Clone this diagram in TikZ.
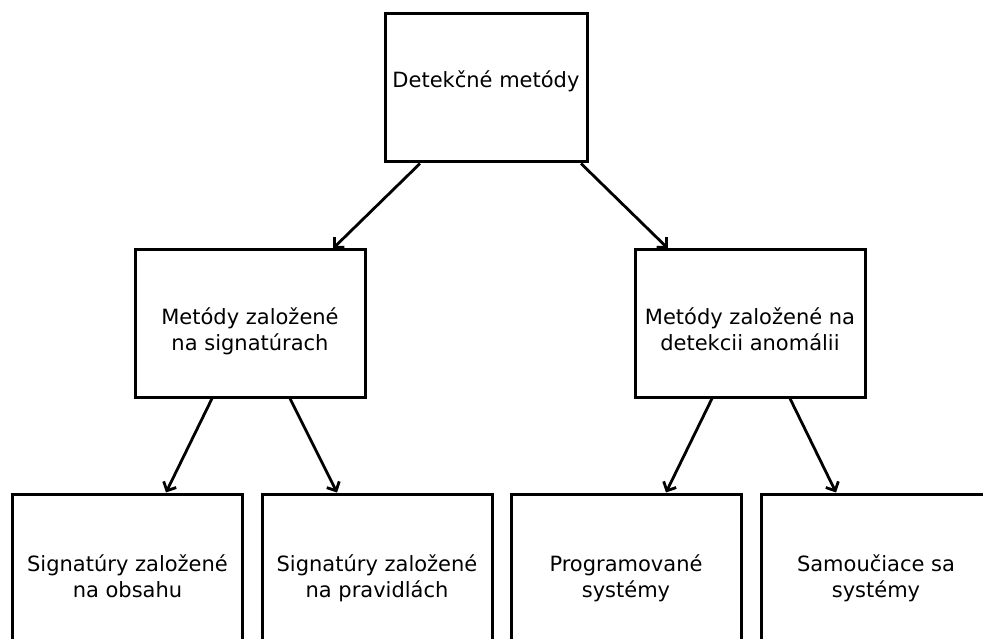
\documentclass[tikz,border=0pt]{standalone}
\usepackage{fontspec}
\setmainfont{DejaVu Sans}
\usetikzlibrary{arrows.meta}
% lines set from the first baseline, which sits on the node centre, moved up by #1
\newcommand\boxtext[2]{\raisebox{#1}[0pt][0pt]{\begin{tabular}[t]{@{}c@{}}#2\end{tabular}}}
\begin{document}
\begin{tikzpicture}[x=1pt,y=-1pt,
  box/.style={draw=black,line width=3pt,fill=white,inner sep=0pt,
    minimum width=#1,
    font=\fontsize{21}{26}\selectfont},
  box/.default=230pt,
  link/.style={line width=2.8pt,-{Straight Barb[length=7pt,width=14pt,line width=2.8pt]}}]
  \clip (0,0) rectangle (983,639);
  \fill[white] (0,0) rectangle (983,639);
  % top level
  \node[box=202pt,minimum height=148pt] (root) at (486,88) {\boxtext{0pt}{Detekčné metódy}};
  % second level
  \node[box=230pt,minimum height=147pt] (sig) at (250,323.5) {\boxtext{-0.5pt}{Metódy založené\\na signatúrach}};
  \node[box=230pt,minimum height=147pt] (ano) at (750,323.5) {\boxtext{-0.5pt}{Metódy založené na\\detekcii anomálii}};
  % third level (runs past the lower edge)
  \node[box=230pt,minimum height=164pt] (obs) at (127.5,576) {\boxtext{4.3pt}{Signatúry založené\\na obsahu}};
  \node[box=230pt,minimum height=164pt] (pra) at (377,576) {\boxtext{4.3pt}{Signatúry založené\\na pravidlách}};
  \node[box=230pt,minimum height=164pt] (prg) at (626,576) {\boxtext{4.3pt}{Programované\\systémy}};
  \node[box=230pt,minimum height=164pt] (sam) at (876,576) {\boxtext{4.3pt}{Samoučiace sa\\systémy}};
  % connectors
  \draw[link] ([xshift=-66pt]root.south) -- ([xshift=83pt]sig.north);
  \draw[link] ([xshift=95pt]root.south) -- ([xshift=-82pt]ano.north);
  \draw[link] ([xshift=-38pt]sig.south) -- ([xshift=38.5pt]obs.north);
  \draw[link] ([xshift=40pt]sig.south) -- ([xshift=-40pt]pra.north);
  \draw[link] ([xshift=-38pt]ano.south) -- ([xshift=40pt]prg.north);
  \draw[link] ([xshift=40pt]ano.south) -- ([xshift=-40pt]sam.north);
\end{tikzpicture}
\end{document}
